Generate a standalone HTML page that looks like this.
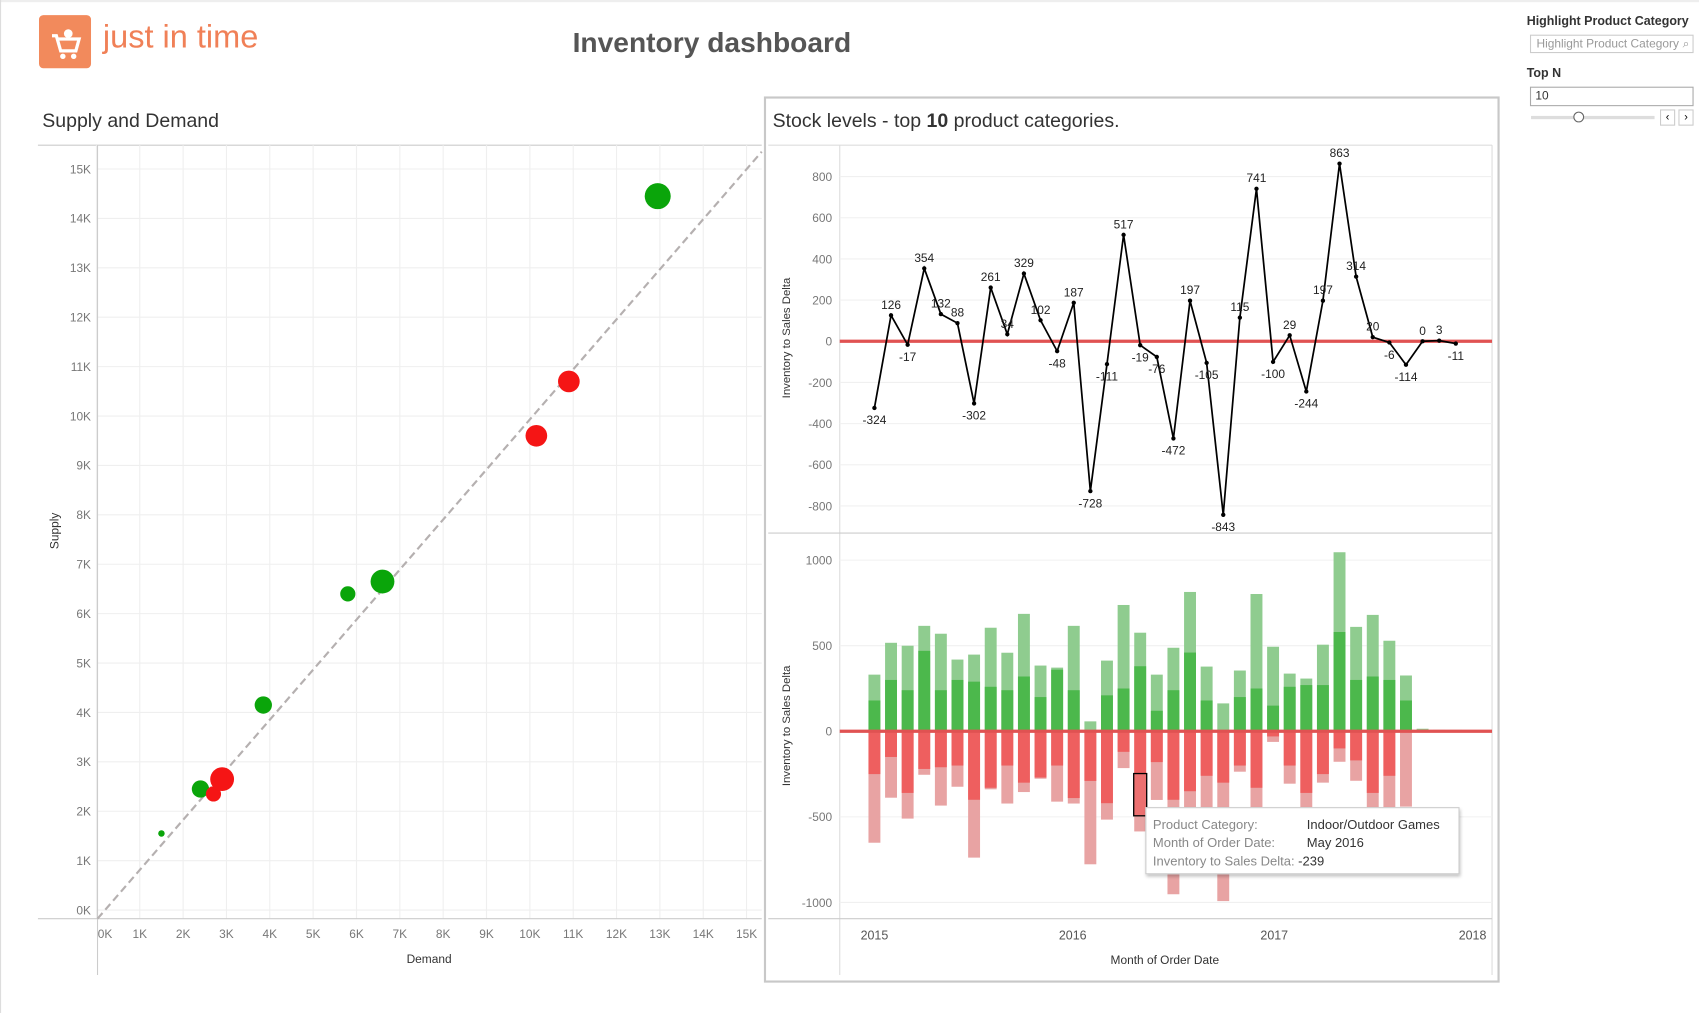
<!DOCTYPE html>
<html><head><meta charset="utf-8">
<style>
html,body{margin:0;padding:0;background:#fff;overflow:hidden}
body{width:1699px;height:1013px;position:relative;font-family:"Liberation Sans",sans-serif}
#wrap{position:absolute;left:0;top:0;width:1568px;height:935px;transform:scale(1.08355,1.0834);transform-origin:0 0}
.abs{position:absolute}
</style></head><body>
<div id="wrap">
<div class="abs" style="left:0;top:0;width:1568px;height:2px;background:#eee"></div>
<div class="abs" style="left:0;top:0;width:1px;height:935px;background:#ddd"></div>
<div class="abs" style="left:36px;top:14px;width:48px;height:49px;background:#f28a5c;border-radius:4px">
<svg width="48" height="49"><path d="M12 19 L16 19 L20 33 L34 33 L37 22 L17 22" fill="none" stroke="#fff" stroke-width="3"/><circle cx="22" cy="38" r="2.5" fill="#fff"/><circle cx="32" cy="38" r="2.5" fill="#fff"/><circle cx="27" cy="17" r="4" fill="#fff"/></svg></div>
<div class="abs" style="left:95px;top:18px;font-size:30px;color:#f08057">just in time</div>
<div class="abs" style="left:457px;width:400px;text-align:center;top:24px;font-size:26px;font-weight:bold;color:#555">Inventory dashboard</div>
<div class="abs" style="left:39px;top:101px;font-size:18px;color:#333">Supply and Demand</div>
<div class="abs" style="left:705px;top:89px;width:675px;height:814px;border:2px solid #c8c8c8"></div>
<div class="abs" style="left:713px;top:101px;font-size:18px;color:#333">Stock levels - top <b>10</b> product categories.</div>

<div class="abs" style="left:1409px;top:14px;font-size:11.5px;font-weight:bold;color:#333">Highlight Product Category</div>
<div class="abs" style="left:1412px;top:32px;height:17px;border:1px solid #ccc;font-size:11px;color:#999;line-height:17px;padding-left:5px;box-sizing:border-box;width:151px">Highlight Product Category <span style="float:right;padding-right:3px">⌕</span></div>
<div class="abs" style="left:1409px;top:62px;font-size:11.5px;font-weight:bold;color:#333">Top N</div>
<div class="abs" style="left:1412px;top:80px;width:151px;height:18px;border:1px solid #aaa;box-sizing:border-box;font-size:11px;line-height:16px;padding-left:4px;color:#333">10</div>
<div class="abs" style="left:1413px;top:107px;width:114px;height:3px;background:#ddd"></div>
<div class="abs" style="left:1452px;top:103px;width:8px;height:8px;border:1px solid #666;border-radius:50%;background:#fff"></div>
<div class="abs" style="left:1532px;top:101px;width:12px;height:13px;border:1px solid #ccc;font-size:10px;text-align:center;line-height:13px">‹</div>
<div class="abs" style="left:1549px;top:101px;width:12px;height:13px;border:1px solid #ccc;font-size:10px;text-align:center;line-height:13px">›</div>

<svg id="svg" class="abs" style="left:0;top:0" width="1568" height="935"></svg>

<div class="abs" style="left:1057px;top:745px;width:290px;height:62px;background:#fff;border:1px solid #ccc;box-shadow:1px 2px 3px rgba(0,0,0,.25);font-size:12px;line-height:17px;padding:7px 0 0 6px;box-sizing:border-box;color:#888">
<div><span style="display:inline-block;width:142px">Product Category:</span><span style="color:#333">Indoor/Outdoor Games</span></div>
<div><span style="display:inline-block;width:142px">Month of Order Date:</span><span style="color:#333">May 2016</span></div>
<div>Inventory to Sales Delta: <span style="color:#333">-239</span></div></div>
</div>
<script>
// Scatter data
const demandK=[1.5,2.4,2.7,2.9,3.85,5.8,6.6,10.15,10.9,12.95];
const supplyK=[1.55,2.45,2.35,2.65,4.15,6.4,6.65,9.6,10.7,14.45];
const sizes=[3,8,7,11,8,7,11,10,10,12];
const status=['g','g','r','r','g','g','g','r','r','g'];
const scatterTicks=['0K','1K','2K','3K','4K','5K','6K','7K','8K','9K','10K','11K','12K','13K','14K','15K'];
// Line data
const lineValues=[-324,126,-17,354,132,88,-302,261,34,329,102,-48,187,-728,-111,517,-19,-76,-472,197,-105,-843,115,741,-100,29,-244,197,863,314,20,-6,-114,0,3,-11];
const lineTicks=[800,600,400,200,0,-200,-400,-600,-800];
// Bar data
const posTotal=[331,517,500,616,570,419,448,605,459,686,384,372,616,58,413,738,576,331,488,814,378,163,355,802,494,337,308,506,1046,610,680,529,326,15,8,8];
const posStrong=[180,300,240,470,240,300,290,260,240,320,200,360,240,0,210,250,380,120,240,460,180,0,200,250,150,260,270,270,580,300,320,300,180,0,0,0];
const negTotal=[-651,-388,-510,-254,-434,-324,-738,-339,-422,-355,-277,-411,-422,-777,-516,-215,-585,-401,-952,-470,-480,-992,-236,-450,-62,-306,-460,-300,-178,-289,-450,-450,-440,-5,-5,-5];
const negStrong=[-250,-150,-360,-220,-210,-200,-400,-330,-200,-300,-270,-200,-390,-290,-420,-120,-250,-180,-400,-350,-260,-300,-200,-330,-30,-200,-360,-250,-100,-170,-360,-260,-5,0,0,0];
const barTicks=[1000,500,0,-500,-1000];
const years=['2015','2016','2017','2018'];

const svg=document.getElementById('svg');
const NS='http://www.w3.org/2000/svg';
function mk(tag,attrs,parent){const e=document.createElementNS(NS,tag);for(const k in attrs)e.setAttribute(k,attrs[k]);(parent||svg).appendChild(e);return e;}
function txt(s,x,y,attrs){const e=mk('text',Object.assign({x:x,y:y,'font-family':'Liberation Sans, sans-serif'},attrs));e.textContent=s;return e;}

const sx=k=>89+k*40, sy=k=>840-k*45.6;
const gS=mk('g',{});


mk('line',{x1:35,y1:134,x2:703,y2:134,stroke:'#ccc'},gS);
scatterTicks.forEach((t,i)=>{
  const gx=mk('line',{x1:sx(i),y1:134,x2:sx(i),y2:848,stroke:'#efefef'},gS);
  
  const gy=mk('line',{x1:90,y1:sy(i),x2:703,y2:sy(i),stroke:'#efefef'},gS);
  
  const xl=txt(t,i===0?97:sx(i),866,{'font-size':11,fill:'#777','text-anchor':'middle'});
  
  const yl=txt(t,84,sy(i)+4,{'font-size':11,fill:'#777','text-anchor':'end'});
  
});
mk('line',{x1:90,y1:134,x2:90,y2:900,stroke:'#ccc'},gS);
mk('line',{x1:35,y1:848,x2:703,y2:848,stroke:'#ccc'},gS);
const xt=txt('Demand',396,889,{'font-size':11,fill:'#333','text-anchor':'middle'});

const yt=txt('Supply',0,0,{'font-size':11,fill:'#333','text-anchor':'middle',transform:'translate(54,490) rotate(-90)'});

const diag=mk('line',{x1:90,y1:848,x2:703,y2:140,stroke:'#b5b0b0','stroke-width':2,'stroke-dasharray':'7,4'},gS);

demandK.forEach((d,i)=>{
  const c=mk('circle',{cx:sx(d),cy:sy(supplyK[i]),r:sizes[i],fill:status[i]==='g'?'#0aa50a':'#f51515'},gS);
  
  
});

const mx=i=>807+i*15.33;
mk('line',{x1:775,y1:134,x2:775,y2:900,stroke:'#ddd'});
mk('line',{x1:709,y1:134,x2:1377,y2:134,stroke:'#ddd'});
mk('line',{x1:1377,y1:134,x2:1377,y2:900,stroke:'#ddd'});
mk('line',{x1:709,y1:492,x2:1377,y2:492,stroke:'#ccc'});
mk('line',{x1:709,y1:848,x2:1377,y2:848,stroke:'#ccc'});
const ly=v=>315-v*0.19;
lineTicks.forEach(t=>{
  mk('line',{x1:775,y1:ly(t),x2:1377,y2:ly(t),stroke:'#f0f0f0'});
  const l=txt(String(t),768,ly(t)+4,{'font-size':11,fill:'#777','text-anchor':'end'});
  
});
const lt=txt('Inventory to Sales Delta',0,0,{'font-size':10.5,fill:'#333','text-anchor':'middle',transform:'translate(729,312) rotate(-90)'});

const zl1=mk('line',{x1:775,y1:ly(0),x2:1377,y2:ly(0),stroke:'#e05252','stroke-width':3});

const pts=lineValues.map((v,i)=>mx(i)+','+ly(v)).join(' ');
const pl=mk('polyline',{points:pts,fill:'none',stroke:'#000','stroke-width':1.6});

lineValues.forEach((v,i)=>{
  const c=mk('circle',{cx:mx(i),cy:ly(v),r:2,fill:'#000'});
  
  const l=txt(String(v),mx(i),v>=0?ly(v)-6:ly(v)+15,{'font-size':11,fill:'#222','text-anchor':'middle'});
  
});

const by=v=>675-v*0.158;
barTicks.forEach(t=>{
  mk('line',{x1:775,y1:by(t),x2:1377,y2:by(t),stroke:'#f0f0f0'});
  const l=txt(String(t),768,by(t)+4,{'font-size':11,fill:'#777','text-anchor':'end'});
  
});
const bt=txt('Inventory to Sales Delta',0,0,{'font-size':10.5,fill:'#333','text-anchor':'middle',transform:'translate(729,670) rotate(-90)'});

posTotal.forEach((v,i)=>{
  const x=mx(i)-5.5;
  const r1=mk('rect',{x:x,y:by(v),width:11,height:by(0)-by(v),fill:'#8fcc8f'});
  
  const s=posStrong[i];
  const r2=mk('rect',{x:x,y:by(s),width:11,height:by(0)-by(s),fill:'#4cb84c'});
  
  const n=negTotal[i];
  const r3=mk('rect',{x:x,y:by(0),width:11,height:by(n)-by(0),fill:'#e8a3a3'});
  
  const ns=negStrong[i];
  const r4=mk('rect',{x:x,y:by(0),width:11,height:by(ns)-by(0),fill:'#ee5f5f'});
  
});
const hl=mk('rect',{x:mx(16)-6,y:714,width:12,height:39,fill:'#ec7070',stroke:'#000','stroke-width':1.2});

const zl2=mk('line',{x1:775,y1:by(0),x2:1377,y2:by(0),stroke:'#e05252','stroke-width':3});

years.forEach((y,i)=>{
  const l=txt(y,[807,990,1176,1359][i],867,{'font-size':11.5,fill:'#555','text-anchor':'middle'});
  
});
const mt=txt('Month of Order Date',1075,890,{'font-size':11,fill:'#333','text-anchor':'middle'});

</script>
</body></html>
